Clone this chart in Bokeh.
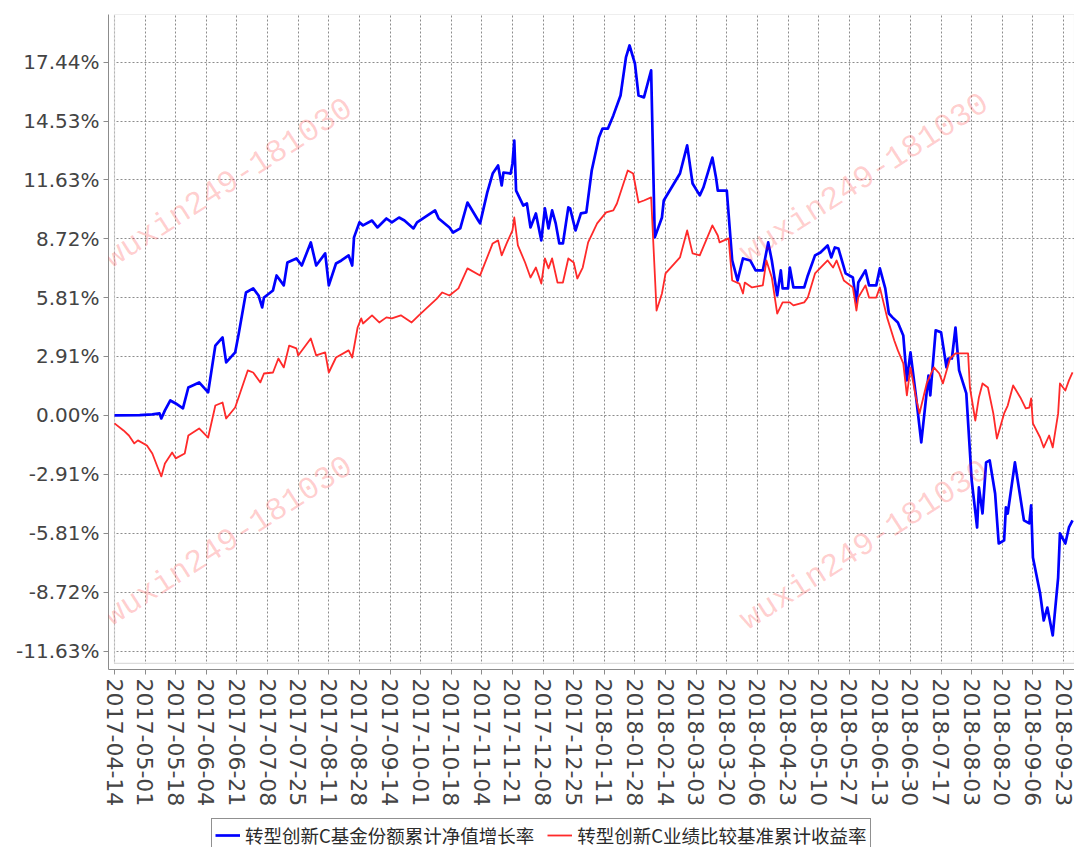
import pandas as pd
from bokeh.plotting import figure
from bokeh.layouts import column
from bokeh.models import (Range1d, FixedTicker, PrintfTickFormatter, DatetimeTickFormatter,
                          BoxAnnotation, Label, Legend, LegendItem)
from bokeh.embed import file_html
from bokeh.resources import INLINE

# ---------------- data ----------------
blue_dates = [
    "2017-04-14", "2017-04-28", "2017-05-05", "2017-05-09", "2017-05-10", "2017-05-12", "2017-05-15", "2017-05-18", "2017-05-22", "2017-05-25",
    "2017-05-31", "2017-06-05", "2017-06-09", "2017-06-13", "2017-06-15", "2017-06-20", "2017-06-22", "2017-06-26", "2017-06-30", "2017-07-03",
    "2017-07-05", "2017-07-06", "2017-07-11", "2017-07-13", "2017-07-17", "2017-07-19", "2017-07-24", "2017-07-27", "2017-08-01", "2017-08-04",
    "2017-08-09", "2017-08-11", "2017-08-15", "2017-08-18", "2017-08-22", "2017-08-24", "2017-08-25", "2017-08-28", "2017-08-30", "2017-09-04",
    "2017-09-07", "2017-09-12", "2017-09-15", "2017-09-19", "2017-09-22", "2017-09-27", "2017-09-29", "2017-10-09", "2017-10-11", "2017-10-17",
    "2017-10-19", "2017-10-23", "2017-10-27", "2017-11-02", "2017-11-03", "2017-11-07", "2017-11-10", "2017-11-13", "2017-11-15", "2017-11-16",
    "2017-11-20", "2017-11-21", "2017-11-22", "2017-11-23", "2017-11-27", "2017-11-29", "2017-12-01", "2017-12-04", "2017-12-07", "2017-12-09",
    "2017-12-11", "2017-12-13", "2017-12-15", "2017-12-17", "2017-12-19", "2017-12-22", "2017-12-23", "2017-12-26", "2017-12-29", "2018-01-01",
    "2018-01-04", "2018-01-08", "2018-01-10", "2018-01-13", "2018-01-16", "2018-01-20", "2018-01-23", "2018-01-25", "2018-01-28", "2018-01-30",
    "2018-02-02", "2018-02-06", "2018-02-08", "2018-02-12", "2018-02-13", "2018-02-22", "2018-02-26", "2018-03-01", "2018-03-05", "2018-03-07",
    "2018-03-12", "2018-03-14", "2018-03-15", "2018-03-20", "2018-03-23", "2018-03-26", "2018-03-28", "2018-03-29", "2018-04-02", "2018-04-05",
    "2018-04-09", "2018-04-12", "2018-04-14", "2018-04-17", "2018-04-19", "2018-04-20", "2018-04-23", "2018-04-24", "2018-04-26", "2018-05-02",
    "2018-05-04", "2018-05-08", "2018-05-11", "2018-05-15", "2018-05-17", "2018-05-19", "2018-05-21", "2018-05-25", "2018-05-29", "2018-05-31",
    "2018-06-01", "2018-06-05", "2018-06-07", "2018-06-11", "2018-06-13", "2018-06-16", "2018-06-18", "2018-06-20", "2018-06-23", "2018-06-26",
    "2018-06-28", "2018-06-30", "2018-07-03", "2018-07-06", "2018-07-10", "2018-07-11", "2018-07-14", "2018-07-17", "2018-07-20", "2018-07-21",
    "2018-07-23", "2018-07-25", "2018-07-27", "2018-07-31", "2018-08-03", "2018-08-06", "2018-08-07", "2018-08-09", "2018-08-11", "2018-08-13",
    "2018-08-16", "2018-08-18", "2018-08-21", "2018-08-22", "2018-08-23", "2018-08-27", "2018-09-01", "2018-09-04", "2018-09-05", "2018-09-06",
    "2018-09-10", "2018-09-12", "2018-09-14", "2018-09-17", "2018-09-20", "2018-09-21", "2018-09-24", "2018-09-26", "2018-09-28",
]
blue_values = [
    0.00, 0.02, 0.05, 0.10, -0.15, 0.25, 0.74, 0.59, 0.35, 1.38,
    1.63, 1.14, 3.45, 3.85, 2.62, 3.11, 4.05, 6.07, 6.27, 5.92,
    5.33, 5.82, 6.17, 6.91, 6.42, 7.55, 7.75, 7.40, 8.54, 7.40,
    8.00, 6.42, 7.50, 7.65, 7.90, 7.40, 8.79, 9.53, 9.38, 9.62,
    9.28, 9.72, 9.53, 9.77, 9.62, 9.23, 9.53, 10.12, 9.72, 9.28,
    9.03, 9.23, 10.51, 9.62, 9.48, 11.01, 11.94, 12.34, 11.35, 11.99,
    11.94, 12.44, 13.57, 11.10, 10.36, 10.46, 9.28, 9.97, 8.64, 10.22,
    9.23, 10.12, 9.48, 8.49, 8.49, 10.27, 10.22, 9.13, 9.97, 10.02,
    12.09, 13.72, 14.16, 14.16, 14.81, 15.79, 17.67, 18.26, 17.37, 15.79,
    15.70, 17.03, 8.79, 9.77, 10.61, 11.94, 13.33, 11.45, 10.86, 11.25,
    12.73, 11.75, 11.10, 11.10, 7.65, 6.66, 7.40, 7.75, 7.65, 7.16,
    7.16, 8.54, 7.65, 5.92, 7.16, 6.27, 6.27, 7.30, 6.32, 6.32,
    6.91, 7.90, 8.04, 8.39, 7.80, 8.29, 8.24, 7.01, 6.81, 5.53,
    6.56, 7.16, 6.42, 6.42, 7.26, 6.27, 5.03, 4.84, 4.59, 3.95,
    1.73, 3.11, 0.99, -1.33, 1.97, 0.99, 4.20, 4.10, 2.37, 2.81,
    2.81, 4.34, 2.22, 1.09, -3.21, -5.53, -3.55, -4.84, -2.32, -2.22,
    -3.85, -6.32, -6.17, -4.54, -4.84, -2.32, -5.18, -5.33, -4.44, -7.01,
    -8.79, -10.12, -9.48, -10.86, -8.00, -5.82, -6.32, -5.53, -5.18,
]

red_dates = [
    "2017-04-14", "2017-04-19", "2017-04-22", "2017-04-25", "2017-04-27", "2017-05-02", "2017-05-05", "2017-05-08", "2017-05-10", "2017-05-12",
    "2017-05-16", "2017-05-18", "2017-05-23", "2017-05-25", "2017-05-31", "2017-06-05", "2017-06-09", "2017-06-13", "2017-06-15", "2017-06-20",
    "2017-06-27", "2017-06-30", "2017-07-04", "2017-07-06", "2017-07-11", "2017-07-14", "2017-07-17", "2017-07-20", "2017-07-24", "2017-07-25",
    "2017-08-01", "2017-08-04", "2017-08-09", "2017-08-11", "2017-08-15", "2017-08-22", "2017-08-24", "2017-08-27", "2017-08-29", "2017-08-30",
    "2017-09-04", "2017-09-08", "2017-09-12", "2017-09-15", "2017-09-20", "2017-09-26", "2017-09-30", "2017-10-10", "2017-10-13", "2017-10-17",
    "2017-10-22", "2017-10-27", "2017-11-03", "2017-11-10", "2017-11-13", "2017-11-15", "2017-11-18", "2017-11-21", "2017-11-22", "2017-11-24",
    "2017-11-28", "2017-12-01", "2017-12-04", "2017-12-07", "2017-12-09", "2017-12-11", "2017-12-13", "2017-12-16", "2017-12-19", "2017-12-22",
    "2017-12-25", "2017-12-27", "2017-12-30", "2018-01-02", "2018-01-07", "2018-01-12", "2018-01-16", "2018-01-18", "2018-01-24", "2018-01-27",
    "2018-01-30", "2018-02-02", "2018-02-06", "2018-02-09", "2018-02-12", "2018-02-14", "2018-02-22", "2018-02-26", "2018-03-01", "2018-03-05",
    "2018-03-12", "2018-03-15", "2018-03-16", "2018-03-21", "2018-03-23", "2018-03-27", "2018-03-29", "2018-03-30", "2018-04-03", "2018-04-09",
    "2018-04-11", "2018-04-14", "2018-04-17", "2018-04-20", "2018-04-24", "2018-04-26", "2018-05-02", "2018-05-04", "2018-05-08", "2018-05-15",
    "2018-05-18", "2018-05-20", "2018-05-24", "2018-05-29", "2018-05-31", "2018-06-01", "2018-06-05", "2018-06-07", "2018-06-11", "2018-06-13",
    "2018-06-17", "2018-06-21", "2018-06-23", "2018-06-26", "2018-06-28", "2018-06-30", "2018-07-03", "2018-07-05", "2018-07-09", "2018-07-13",
    "2018-07-16", "2018-07-18", "2018-07-22", "2018-07-25", "2018-08-01", "2018-08-02", "2018-08-05", "2018-08-07", "2018-08-09", "2018-08-12",
    "2018-08-15", "2018-08-17", "2018-08-21", "2018-08-23", "2018-08-26", "2018-08-30", "2018-09-02", "2018-09-04", "2018-09-05", "2018-09-06",
    "2018-09-10", "2018-09-12", "2018-09-15", "2018-09-17", "2018-09-20", "2018-09-21", "2018-09-24", "2018-09-26", "2018-09-28",
]
red_values = [
    -0.39, -0.74, -0.99, -1.38, -1.23, -1.48, -1.88, -2.57, -3.01, -2.37,
    -1.83, -2.12, -1.88, -0.99, -0.64, -1.09, 0.49, 0.64, -0.15, 0.39,
    2.22, 2.12, 1.63, 2.07, 2.12, 2.81, 2.37, 3.45, 3.31, 2.96,
    3.80, 2.96, 3.11, 2.12, 2.86, 3.21, 2.86, 4.34, 4.79, 4.54,
    4.94, 4.59, 4.84, 4.79, 4.94, 4.59, 4.94, 5.77, 6.07, 5.92,
    6.27, 7.26, 6.91, 8.49, 8.64, 7.90, 8.54, 9.13, 9.77, 8.39,
    7.55, 6.81, 7.30, 6.51, 7.75, 7.26, 7.75, 6.56, 6.56, 7.75,
    7.55, 6.76, 7.30, 8.54, 9.48, 10.02, 10.12, 10.46, 12.09, 11.94,
    10.51, 10.61, 10.76, 5.18, 6.02, 7.01, 7.80, 9.13, 8.00, 7.90,
    9.38, 8.88, 8.54, 8.74, 6.66, 6.51, 6.02, 6.56, 6.32, 6.42,
    7.65, 6.81, 5.03, 5.58, 5.58, 5.43, 5.58, 5.82, 7.01, 7.65,
    7.30, 7.65, 6.66, 6.32, 5.18, 5.82, 6.42, 5.82, 5.82, 6.32,
    4.84, 3.70, 3.21, 2.57, 0.99, 2.37, 0.89, 0.10, 1.58, 2.37,
    2.07, 1.58, 2.81, 3.06, 3.06, 1.38, -0.25, 0.89, 1.58, 1.38,
    0.10, -1.14, 0.10, 0.49, 1.48, 0.89, 0.35, 0.39, 0.84, -0.39,
    -1.09, -1.58, -0.99, -1.58, 0.10, 1.58, 1.23, 1.73, 2.12,
]

x_tick_dates = [
    "2017-04-14", "2017-05-01", "2017-05-18", "2017-06-04", "2017-06-21", "2017-07-08", "2017-07-25", "2017-08-11",
    "2017-08-28", "2017-09-14", "2017-10-01", "2017-10-18", "2017-11-04", "2017-11-21", "2017-12-08", "2017-12-25",
    "2018-01-11", "2018-01-28", "2018-02-14", "2018-03-03", "2018-03-20", "2018-04-06", "2018-04-23", "2018-05-10",
    "2018-05-27", "2018-06-13", "2018-06-30", "2018-07-17", "2018-08-03", "2018-08-20", "2018-09-06", "2018-09-23",
]
y_tick_values = [-11.63, -8.72, -5.81, -2.91, 0.00, 2.91, 5.81, 8.72, 11.63, 14.53, 17.44]

blue_label = "转型创新C基金份额累计净值增长率"
red_label = "转型创新C业绩比较基准累计收益率"
watermark = "wuxin249-181030"


def ms(s):
    return pd.Timestamp(s).value / 1e6


n_b = min(len(blue_dates), len(blue_values))
n_r = min(len(red_dates), len(red_values))
bx = pd.to_datetime(blue_dates[:n_b])
rx = pd.to_datetime(red_dates[:n_r])

data_start = ms("2017-04-14")
x_start = ms("2017-04-10 16:00")
x_end = ms("2018-09-29 02:00")
y_bottom, y_top = -12.54, 19.79
inner_bottom = -12.24

GRAY = "#8c8c8c"
TXT = "#444444"
BLUE = "#0000ff"
RED = "#ff2a2a"
LEFT = 108

p = figure(width=1074, height=818, x_axis_type="datetime",
           x_range=Range1d(x_start, x_end), y_range=Range1d(y_bottom, y_top),
           output_backend="svg", toolbar_location=None,
           min_border_left=LEFT, min_border_right=0, min_border_top=14, min_border_bottom=149)
p.outline_line_color = None
p.background_fill_color = "white"
p.border_fill_color = "white"

# axes
p.xaxis.ticker = FixedTicker(ticks=[ms(d) for d in x_tick_dates])
fmt = "%Y-%m-%d"
p.xaxis.formatter = DatetimeTickFormatter(microseconds=fmt, milliseconds=fmt, seconds=fmt, minsec=fmt,
                                          minutes=fmt, hourmin=fmt, hours=fmt, days=fmt, months=fmt, years=fmt)
p.xaxis.major_label_orientation = "vertical"
p.yaxis.ticker = FixedTicker(ticks=y_tick_values)
p.yaxis.formatter = PrintfTickFormatter(format="%.2f%%")
for ax, size in ((p.xaxis, "22px"), (p.yaxis, "20px")):
    ax.axis_line_color = GRAY
    ax.major_tick_line_color = GRAY
    ax.major_tick_out = 5
    ax.major_tick_in = 0
    ax.minor_tick_line_color = None
    ax.major_label_text_font = "DejaVu Sans"
    ax.major_label_text_font_size = size
    ax.major_label_text_color = TXT
    ax.major_label_standoff = 4

p.grid.grid_line_color = GRAY
p.grid.grid_line_dash = "2 2"
p.grid.grid_line_width = 1

# cover grid in the gap between axes and data area, then draw data-area frame
p.add_layout(BoxAnnotation(right=data_start, fill_color="white", fill_alpha=1.0, line_color=None, level="underlay"))
p.add_layout(BoxAnnotation(top=inner_bottom, fill_color="white", fill_alpha=1.0, line_color=None, level="underlay"))
p.add_layout(BoxAnnotation(left=data_start, bottom=inner_bottom, fill_color=None, fill_alpha=0,
                           line_color=GRAY, line_width=1.2, level="underlay"))

# series
rb = p.line(bx, blue_values[:n_b], line_color=BLUE, line_width=2.7, line_join="round")
rr = p.line(rx, red_values[:n_r], line_color=RED, line_width=1.8, line_join="round")

# watermarks
for sx, sy in ((120, 486), (756, 491), (120, 128), (756, 124)):
    p.add_layout(Label(x=sx, y=sy, x_units="screen", y_units="screen", text=watermark,
                       angle=32.6, angle_units="deg", text_align="center", text_baseline="middle",
                       text_font="Liberation Mono", text_font_size="32px",
                       text_color="#ff0000", text_alpha=0.2))

# legend strip below the chart
LG_H = 29
lg = figure(width=1074, height=LG_H, x_range=Range1d(0, 1), y_range=Range1d(0, 1),
            output_backend="svg", toolbar_location=None,
            x_axis_location=None, y_axis_location=None,
            min_border_left=LEFT, min_border_right=0, min_border_top=0, min_border_bottom=0)
lg.outline_line_color = None
lg.grid.visible = False
lg.background_fill_color = "white"
lg.border_fill_color = "white"
# legend proxies, kept outside the strip's visible range
lb = lg.line(x=[5, 6], y=[5, 6], line_color=BLUE, line_width=2.7)
lr = lg.line(x=[5, 6], y=[5, 6], line_color=RED, line_width=1.8)

legend = Legend(items=[LegendItem(label=blue_label, renderers=[lb]),
                       LegendItem(label=red_label, renderers=[lr])],
                orientation="horizontal", location=(103, LG_H - 34))
legend.label_text_font = "Noto Sans CJK SC"
legend.label_text_font_size = "18.5px"
legend.label_text_color = "#2a2a2a"
legend.border_line_color = "#222222"
legend.border_line_width = 1.5
legend.background_fill_color = "white"
legend.background_fill_alpha = 1.0
legend.padding = 3
legend.spacing = 13
legend.margin = 0
legend.glyph_width = 25
legend.glyph_height = 24
legend.label_height = 24
legend.label_standoff = 5
legend.label_text_baseline = "middle"
lg.add_layout(legend, "center")

layout = column(p, lg)
open("out.html", "w").write(file_html(layout, INLINE))
